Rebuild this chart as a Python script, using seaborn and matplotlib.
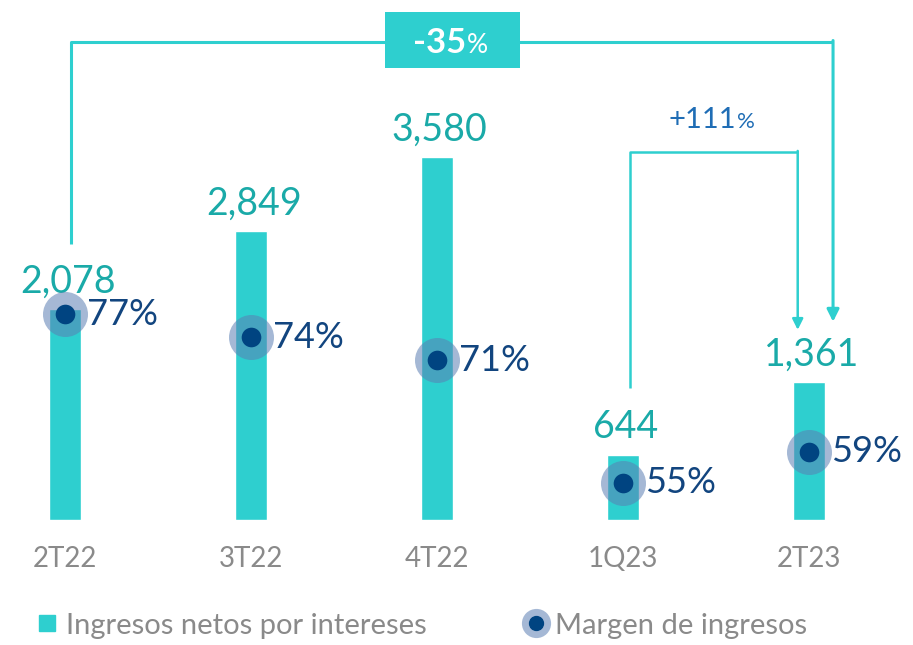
import matplotlib
matplotlib.use("Agg")
import matplotlib.pyplot as plt
import seaborn as sns
from matplotlib.patches import Rectangle
from matplotlib.lines import Line2D
from matplotlib.legend_handler import HandlerTuple

# data
quarters = ["2T22", "3T22", "4T22", "1Q23", "2T23"]
ingresos = [2078, 2849, 3580, 644, 1361]
ingresos_txt = ["2,078", "2,849", "3,580", "644", "1,361"]
margen = [77, 74, 71, 55, 59]
var_anual = "-35"
var_trim = "+111"

sns.set_theme(style="white")
plt.rcParams["font.family"] = ["Lato", "DejaVu Sans"]

TEAL = "#2ecfcf"
TEAL_TXT = "#1aaaa8"
NAVY = "#004481"
HALO = "#5b7fb3"
PCT_TXT = "#12457f"
BLUE_TXT = "#1f6db5"
GREY = "#8a8a8a"

fig = plt.figure(figsize=(9.13, 6.45), dpi=100)
ax = fig.add_axes([0, 125 / 645, 1, 520 / 645])
sns.barplot(x=quarters, y=ingresos, color=TEAL, saturation=1, width=0.17, ax=ax)
ax.set_xlim(-0.35, 4.56)
ax.set_ylim(0, 5130)
for s in ax.spines.values():
    s.set_visible(False)
ax.set_yticks([])
ax.set_xlabel("")
ax.set_ylabel("")
ax.tick_params(axis="x", length=0, pad=19, labelsize=20, labelcolor=GREY)

# value labels
for i, (v, t) in enumerate(zip(ingresos, ingresos_txt)):
    ax.annotate(t, (i, v), xytext=(2, 12), textcoords="offset points",
                ha="center", va="baseline", fontsize=27, color=TEAL_TXT)

# margin dots on secondary axis
ax2 = ax.twinx()
ax2.set_ylim(50.1, 118.1)
ax2.set_yticks([])
for s in ax2.spines.values():
    s.set_visible(False)
xs = list(range(len(quarters)))
ax2.scatter(xs, margen, s=1050, color=HALO, alpha=0.55, linewidths=0, zorder=3)
ax2.scatter(xs, margen, s=200, color=NAVY, linewidths=0, zorder=4)
for i, m in enumerate(margen):
    ax2.annotate(f"{m}%", (i, m), xytext=(16, 0), textcoords="offset points",
                 ha="left", va="center", fontsize=26, color=PCT_TXT)

# bracket -35%
top = 4720
x0, x1 = 0.03, 4.13
ax.plot([x0, x0, x1], [ingresos[0] + 640, top, top], color=TEAL, lw=2.2,
        solid_capstyle="butt", zorder=1)
ax.annotate("", xy=(x1, ingresos[4] + 595), xytext=(x1, top + 10),
            arrowprops=dict(arrowstyle="-|>", color=TEAL, lw=2.2,
                            mutation_scale=18, shrinkA=0, shrinkB=0))
ax.add_patch(Rectangle((2.086 - 0.363, 4739 - 276), 0.726, 553,
                       facecolor=TEAL, edgecolor="none", zorder=5))
ax.text(2.156, 4610, var_anual, ha="right", va="baseline", fontsize=25,
        fontweight="bold", color="white", zorder=6)
ax.text(2.16, 4610, "%", ha="left", va="baseline", fontsize=19,
        color="white", zorder=6)

# bracket +111%
top2 = 3633
a0, a1 = 3.04, 3.94
ax.plot([a0, a0, a1], [ingresos[3] + 660, top2, top2], color=TEAL, lw=1.8,
        solid_capstyle="butt", zorder=1)
ax.annotate("", xy=(a1, ingresos[4] + 515), xytext=(a1, top2 + 8),
            arrowprops=dict(arrowstyle="-|>", color=TEAL, lw=1.8,
                            mutation_scale=16, shrinkA=0, shrinkB=0))
ax.text(3.61, 3870, var_trim, ha="right", va="baseline", fontsize=21,
        color=BLUE_TXT)
ax.text(3.613, 3870, "%", ha="left", va="baseline", fontsize=16,
        color=BLUE_TXT)

# legend
h_bar = Line2D([], [], marker="s", color=TEAL, ls="", markersize=11)
h_halo = Line2D([], [], marker="o", color=HALO, alpha=0.55, ls="", markersize=21,
                markeredgewidth=0)
h_dot = Line2D([], [], marker="o", color=NAVY, ls="", markersize=10)
leg = fig.legend([h_bar, (h_halo, h_dot)],
                 ["Ingresos netos por intereses", "Margen de ingresos"],
                 handler_map={tuple: HandlerTuple(ndivide=1)},
                 loc="center left", bbox_to_anchor=(0.012, 0.03), ncol=2,
                 frameon=False, fontsize=21, handlelength=0.7,
                 handletextpad=0.3, columnspacing=3.4)
for t in leg.get_texts():
    t.set_color(GREY)

fig.savefig("out.png", dpi=100)
